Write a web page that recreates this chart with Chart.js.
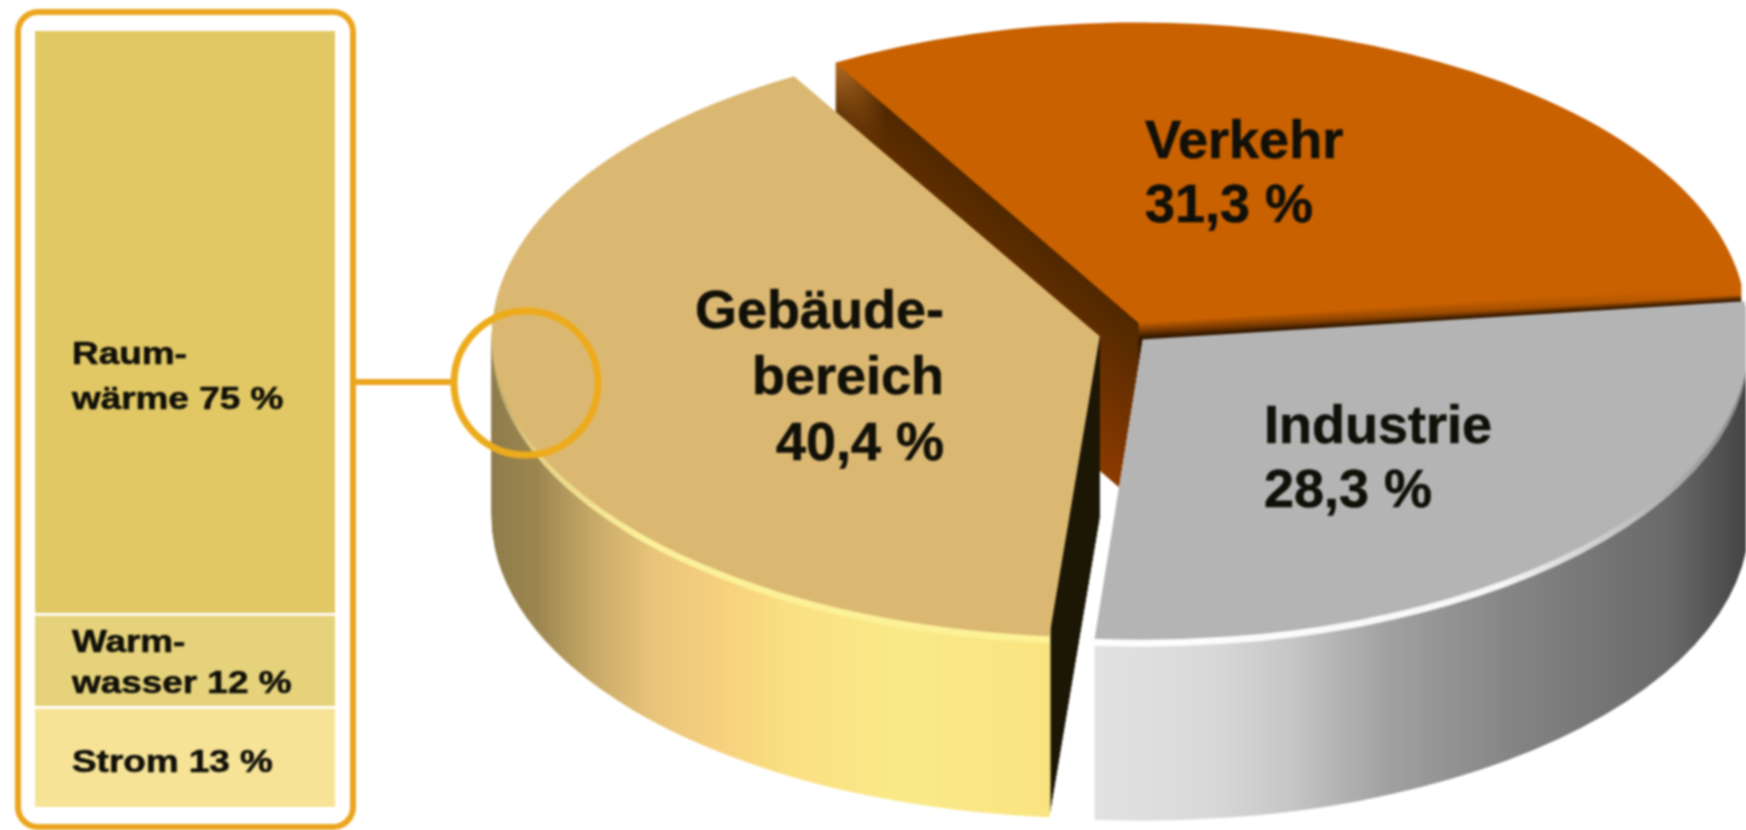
<!DOCTYPE html>
<html>
<head>
<meta charset="utf-8">
<style>
  html, body { margin: 0; padding: 0; background: #fff; overflow: hidden; }
  #page { position: relative; width: 1746px; height: 830px; }
  canvas { position: absolute; filter: blur(0.8px); }
  #barChart { left: 35px; top: 31px; }
  #pieChart { left: 0; top: 0; }
</style>
<script src="https://cdn.jsdelivr.net/npm/chart.js@4/dist/chart.umd.js"></script>
</head>
<body>
<div id="page">
  <canvas id="barChart" width="300" height="776"></canvas>
  <canvas id="pieChart" width="1746" height="830"></canvas>
</div>
<script>
const pieCategories = ['Verkehr', 'Industrie', 'Gebäude-bereich'];
const pieValues = [31.3, 28.3, 40.4];
const barCategories = ['Strom', 'Warmwasser', 'Raumwärme'];
const barValues = [13, 12, 75];

const FONT = '"Liberation Sans", Arial, sans-serif';

// pie is tilted by squashing the context, walls are the same arcs drawn again lower down
const centerX = 1129;
const centerY = 333;
const squash = 0.495;
const depth = 181;
const rimSize = 7;

function hex(c) {
  return [1, 3, 5].map(i => parseInt(c.slice(i, i + 2), 16));
}
function mix(a, b, t) {
  const ca = hex(a), cb = hex(b);
  t = Math.max(0, Math.min(1, t));
  return 'rgb(' + ca.map((v, i) => Math.round(v + (cb[i] - v) * t)).join(',') + ')';
}

// stops are [page x, colour]
function sideGradient(ctx, dx, stops) {
  const x0 = 480, x1 = 1760;
  const g = ctx.createLinearGradient(x0 - dx, 0, x1 - dx, 0);
  stops.forEach(s => g.addColorStop((s[0] - x0) / (x1 - x0), s[1]));
  return g;
}

const wallStyles = [
  // Verkehr
  (ctx, dx, k) => {
    const body = mix('#4f2800', '#8c3a00', k / depth);
    return sideGradient(ctx, dx, [
      [838, mix('#ae6a22', '#6a3a08', k / 45)],
      [885, body],
      [1138, body],
      [1139, mix('#c96100', '#341800', k / 15)],
      [1745, mix('#c96100', '#341800', (k - 10) / 6)]
    ]);
  },
  // Industrie
  (ctx, dx, k) => k <= rimSize
    ? sideGradient(ctx, dx, [[1080, '#ffffff'], [1500, '#f6f6f6'], [1640, '#bdbdbd'], [1746, '#8a8a8a']])
    : sideGradient(ctx, dx, [[1092, '#e2e2e2'], [1210, '#d9d9d9'], [1290, '#c6c6c6'], [1390, '#a0a0a0'], [1510, '#858585'], [1670, '#696969'], [1746, '#444444']]),
  // Gebäude
  (ctx, dx, k) => k <= rimSize
    ? sideGradient(ctx, dx, [[492, '#b8a468'], [540, '#e8d488'], [640, '#fbf09a'], [1050, '#fdf295'], [1051, '#1c1605'], [1110, '#1c1605']])
    : sideGradient(ctx, dx, [[492, '#8f7c4c'], [537, '#9c8650'], [595, '#c8aa68'], [652, '#e8c47a'], [729, '#f8d27e'], [786, '#fadf82'], [901, '#faea88'], [1050, '#f9e481'], [1051, '#1c1605'], [1110, '#1c1605']])
];

const tiltPlugin = {
  id: 'tilt',
  afterDatasetsUpdate(chart) {
    // the exploded slice comes out bigger than the others, take that back
    chart.getDatasetMeta(0).data[2].outerRadius -= 11;
  },
  beforeDatasetsDraw(chart) {
    const ctx = chart.ctx;
    const cx = (chart.chartArea.left + chart.chartArea.right) / 2;
    const cy = (chart.chartArea.top + chart.chartArea.bottom) / 2;
    const dx = centerX - cx;
    ctx.save();
    ctx.translate(dx, centerY);
    ctx.scale(1, squash);
    ctx.translate(0, -cy);
    chart.getDatasetMeta(0).data.forEach((arc, i) => {
      const opts = arc.options;
      // arc.draw shifts by offset/4 before filling and the gradient moves along with it
      const shift = Math.cos((arc.startAngle + arc.endAngle) / 2) * opts.offset / 4;
      for (let k = depth; k >= 1; k--) {
        arc.options = Object.assign({}, opts, { backgroundColor: wallStyles[i](ctx, dx + shift, k), borderWidth: 0 });
        ctx.save();
        ctx.translate(0, k / squash);
        arc.draw(ctx);
        ctx.restore();
      }
      arc.options = opts;
    });
  },
  afterDatasetsDraw(chart) {
    chart.ctx.restore();
  }
};

function drawLines(ctx, font, stretch, heavy, lines) {
  ctx.save();
  ctx.font = font;
  ctx.fillStyle = '#111008';
  ctx.strokeStyle = '#111008';
  ctx.lineWidth = heavy;
  lines.forEach(l => {
    ctx.save();
    ctx.translate(l[1], l[2]);
    ctx.scale(stretch, 1);
    ctx.textAlign = l[3] || 'left';
    ctx.fillText(l[0], 0, 0);
    if (heavy) ctx.strokeText(l[0], 0, 0);
    ctx.restore();
  });
  ctx.restore();
}

const pieText = {
  id: 'pieText',
  afterDraw(chart) {
    const ctx = chart.ctx;
    drawLines(ctx, 'bold 54px ' + FONT, 1, 0.6, [
      ['Verkehr', 1145, 158],
      ['31,3 %', 1145, 222],
      ['Gebäude-', 944, 328, 'right'],
      ['bereich', 944, 394, 'right'],
      ['40,4 %', 944, 460, 'right'],
      ['Industrie', 1264, 443],
      ['28,3 %', 1264, 507]
    ]);
    // frame round the bar, its connector and the circle on the pie edge
    ctx.save();
    ctx.strokeStyle = '#eba51f';
    ctx.lineWidth = 6;
    ctx.beginPath();
    ctx.roundRect(18, 12, 335, 815, 20);
    ctx.stroke();
    ctx.beginPath();
    ctx.moveTo(353, 382);
    ctx.lineTo(452, 382);
    ctx.stroke();
    ctx.strokeStyle = '#edab1c';
    ctx.lineWidth = 7;
    ctx.beginPath();
    ctx.arc(526, 383, 72, 0, Math.PI * 2);
    ctx.stroke();
    ctx.restore();
  }
};

const barText = {
  id: 'barText',
  afterDraw(chart) {
    drawLines(chart.ctx, 'bold 31px ' + FONT, 1.19, 0.6, [
      ['Raum-', 37, 333],
      ['wärme 75 %', 37, 378],
      ['Warm-', 37, 621],
      ['wasser 12 %', 37, 662],
      ['Strom 13 %', 37, 741]
    ]);
  }
};

new Chart(document.getElementById('pieChart'), {
  type: 'pie',
  data: {
    labels: pieCategories,
    datasets: [{
      data: pieValues,
      backgroundColor: ['#c96100', '#b4b4b4', '#dbb872'],
      borderWidth: 0,
      offset: [88, 76, 120],
      radius: 606,
      clip: false
    }]
  },
  options: {
    responsive: false,
    animation: false,
    rotation: -30,
    plugins: { legend: { display: false }, tooltip: { enabled: false } },
    events: []
  },
  plugins: [tiltPlugin, pieText]
});

new Chart(document.getElementById('barChart'), {
  type: 'bar',
  data: {
    labels: ['Gebäudebereich'],
    datasets: barCategories.map((name, i) => ({
      label: name,
      data: [barValues[i]],
      backgroundColor: ['#f6e396', '#e6d27a', '#e1c864'][i],
      borderColor: '#ffffff',
      borderWidth: i < 2 ? { top: 3 } : 0,
      borderSkipped: false,
      barPercentage: 1,
      categoryPercentage: 1
    }))
  },
  options: {
    responsive: false,
    animation: false,
    scales: {
      x: { stacked: true, display: false },
      y: { stacked: true, display: false, min: 0, max: 100 }
    },
    plugins: { legend: { display: false }, tooltip: { enabled: false } },
    events: []
  },
  plugins: [barText]
});
</script>
</body>
</html>
